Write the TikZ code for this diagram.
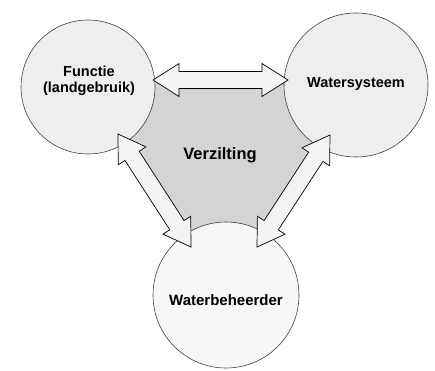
\documentclass[tikz,border=0pt]{standalone}
\usepackage{fontspec}
\setmainfont{Liberation Sans}
\usetikzlibrary{calc}
\def\arrHL{26pt}
\def\arrHW{16.5pt}
\def\arrSW{8.5pt}
\tikzset{
  circ/.style={circle, draw=black!75, line width=0.6pt, fill=gray!13, minimum size=#1, inner sep=0pt},
  arr/.style={draw=black, line width=0.7pt, fill=gray!9, line join=miter},
  core/.style={fill=gray!34},
  lbl/.style={font=\fontsize{14.5}{16.5}\selectfont\bfseries, align=center, inner sep=0pt},
}
\newcommand\dblarrow[2]{%
  \path[arr] (#1)
    -- ($(#1)!\arrHL!(#2)!\arrHW!90:(#2)$)
    -- ($(#1)!\arrHL!(#2)!\arrSW!90:(#2)$)
    -- ($(#2)!\arrHL!(#1)!\arrSW!-90:(#1)$)
    -- ($(#2)!\arrHL!(#1)!\arrHW!-90:(#1)$)
    -- (#2)
    -- ($(#2)!\arrHL!(#1)!\arrHW!90:(#1)$)
    -- ($(#2)!\arrHL!(#1)!\arrSW!90:(#1)$)
    -- ($(#1)!\arrHL!(#2)!\arrSW!-90:(#2)$)
    -- ($(#1)!\arrHL!(#2)!\arrHW!-90:(#2)$)
    -- cycle;}
\begin{document}
\begin{tikzpicture}[x=1pt,y=-1pt]
\useasboundingbox (0,0) rectangle (435,370);
% arrow end points
\coordinate (h1) at (153,80);
\coordinate (h2) at (288,80);
\coordinate (l1) at (118,134);
\coordinate (l2) at (191,247);
\coordinate (r1) at (330,135);
\coordinate (r2) at (257,247);
% central region
\fill[core] (h1) -- (h2) -- (r1) -- (r2) -- (l2) -- (l1) -- cycle;
% circles
\node[circ=134pt] (L) at (88,87) {};
\node[circ=144pt] (R) at (356,85) {};
\node[circ=146pt, fill=gray!6] (B) at (226,295) {};
% arrows
\dblarrow{h1}{h2}
\dblarrow{l1}{l2}
\dblarrow{r1}{r2}
% labels
\node[lbl] (tL) at (89,81) {Functie\\(landgebruik)};
\node[lbl] (tR) at (356,84) {Watersysteem};
\node[lbl, font=\fontsize{15}{17}\selectfont\bfseries] (tB) at (226,300) {Waterbeheerder};
\node[lbl, font=\fontsize{16.5}{18}\selectfont\bfseries] (tV) at (220,155) {Verzilting};
\end{tikzpicture}
\end{document}
